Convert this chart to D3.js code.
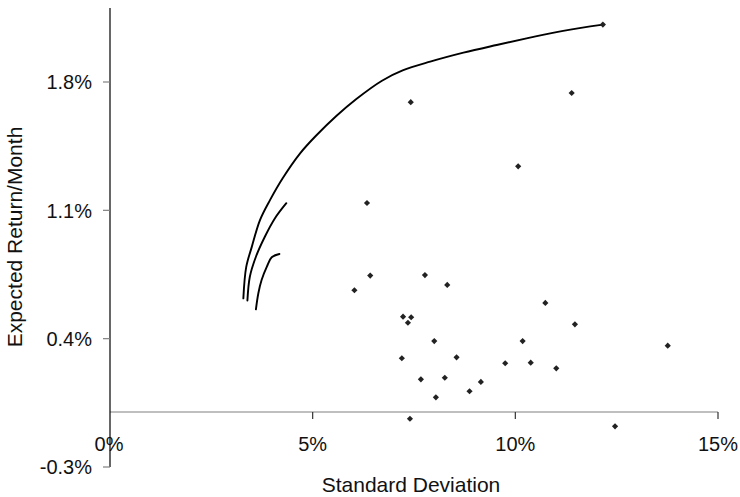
<!DOCTYPE html>
<html>
<head>
<meta charset="utf-8">
<script src="https://cdn.jsdelivr.net/npm/d3@7"></script>
<style>
  html, body { margin: 0; padding: 0; background: #fff; }
  svg { display: block; font-family: "Liberation Sans", Arial, Helvetica, sans-serif; }
</style>
</head>
<body>
<svg id="chart" width="740" height="497"></svg>
<script>
// ---- data (percent units) ----
const assetSD     = [12.16, 7.42, 11.39, 10.07, 6.34, 6.42, 6.03, 7.77, 8.32, 7.23, 7.43, 7.35, 8.00, 7.20, 8.55, 7.67, 8.26, 9.15, 8.87, 8.04, 7.40, 10.74, 11.47, 10.18, 9.75, 10.38, 11.01, 13.76, 12.46];
const assetReturn = [2.113, 1.69, 1.74, 1.34, 1.14, 0.744, 0.664, 0.747, 0.693, 0.520, 0.517, 0.487, 0.387, 0.293, 0.298, 0.178, 0.187, 0.164, 0.113, 0.080, -0.037, 0.595, 0.478, 0.387, 0.266, 0.269, 0.238, 0.362, -0.078];

const frontier1SD  = [3.29, 3.36, 3.50, 3.70, 3.95, 4.26, 4.69, 5.10, 5.59, 6.07, 6.71, 7.22, 7.90, 8.72, 9.54, 10.36, 11.18, 12.16];
const frontier1Ret = [0.620, 0.790, 0.902, 1.047, 1.157, 1.275, 1.411, 1.511, 1.616, 1.706, 1.807, 1.863, 1.911, 1.960, 2.002, 2.042, 2.079, 2.113];
const frontier2SD  = [3.39, 3.45, 3.60, 3.82, 4.07, 4.35];
const frontier2Ret = [0.608, 0.738, 0.847, 0.956, 1.057, 1.139];
const frontier3SD  = [3.60, 3.66, 3.74, 3.87, 3.99, 4.18];
const frontier3Ret = [0.560, 0.648, 0.720, 0.793, 0.844, 0.862];

const xTicks = [0, 5, 10, 15];
const yTicks = [-0.3, 0.4, 1.1, 1.8];
const xTitle = "Standard Deviation";
const yTitle = "Expected Return/Month";

// ---- layout ----
const svg = d3.select("#chart");
const x = d3.scaleLinear().domain([0, 15]).range([110, 718]);
const y = d3.scaleLinear().domain([-0.3, 1.8]).range([467, 82]);

// x axis (at y = 0)
const xAxisG = svg.append("g").attr("transform", `translate(0,${y(0)})`);
xAxisG.append("line")
  .attr("x1", x(0)).attr("x2", x(15)).attr("y1", 0).attr("y2", 0)
  .attr("stroke", "#808080").attr("stroke-width", 1.2);
xAxisG.selectAll("line.tick").data(xTicks.filter(d => d > 0)).join("line")
  .attr("class", "tick")
  .attr("x1", d => x(d)).attr("x2", d => x(d)).attr("y1", 0).attr("y2", 7)
  .attr("stroke", "#333").attr("stroke-width", 1.2);
xAxisG.selectAll("text").data(xTicks).join("text")
  .attr("x", d => x(d) - (d === 0 ? 1 : 0)).attr("y", 39)
  .attr("text-anchor", "middle")
  .attr("font-size", 20).attr("fill", "#111")
  .text(d => d + "%");

// y axis
svg.append("line")
  .attr("x1", x(0)).attr("x2", x(0)).attr("y1", 8).attr("y2", y(-0.3))
  .attr("stroke", "#000").attr("stroke-width", 1.2);
svg.selectAll("line.ytick").data(yTicks).join("line")
  .attr("class", "ytick")
  .attr("x1", x(0) - 7).attr("x2", x(0)).attr("y1", d => y(d)).attr("y2", d => y(d))
  .attr("stroke", "#808080").attr("stroke-width", 1.2);
svg.selectAll("text.ylab").data(yTicks).join("text")
  .attr("class", "ylab")
  .attr("x", 92).attr("y", d => y(d))
  .attr("dy", "0.36em")
  .attr("text-anchor", "end")
  .attr("font-size", 20).attr("fill", "#111")
  .text(d => d + "%");

// titles
svg.append("text")
  .attr("x", 411).attr("y", 492)
  .attr("text-anchor", "middle").attr("font-size", 21).attr("fill", "#111")
  .text(xTitle);
svg.append("text")
  .attr("transform", "translate(22,237) rotate(-90)")
  .attr("text-anchor", "middle").attr("font-size", 21).attr("fill", "#111")
  .text(yTitle);

// frontier curves
const line = d3.line().x(d => x(d[0])).y(d => y(d[1])).curve(d3.curveCatmullRom.alpha(0.5));
const f1 = frontier1SD.map((d, i) => [d, frontier1Ret[i]]);
const f2 = frontier2SD.map((d, i) => [d, frontier2Ret[i]]);
const f3 = frontier3SD.map((d, i) => [d, frontier3Ret[i]]);
[f1, f2, f3].forEach(f => {
  svg.append("path").attr("d", line(f))
    .attr("fill", "none").attr("stroke", "#000").attr("stroke-width", 1.9)
    .attr("stroke-linejoin", "round").attr("stroke-linecap", "round");
});

// asset points
const sym = d3.symbol().type(d3.symbolSquare).size(19);
svg.selectAll("path.pt").data(assetSD.map((d, i) => [d, assetReturn[i]])).join("path")
  .attr("class", "pt")
  .attr("d", sym)
  .attr("transform", d => `translate(${x(d[0])},${y(d[1])}) rotate(45)`)
  .attr("fill", "#222");
</script>
</body>
</html>
